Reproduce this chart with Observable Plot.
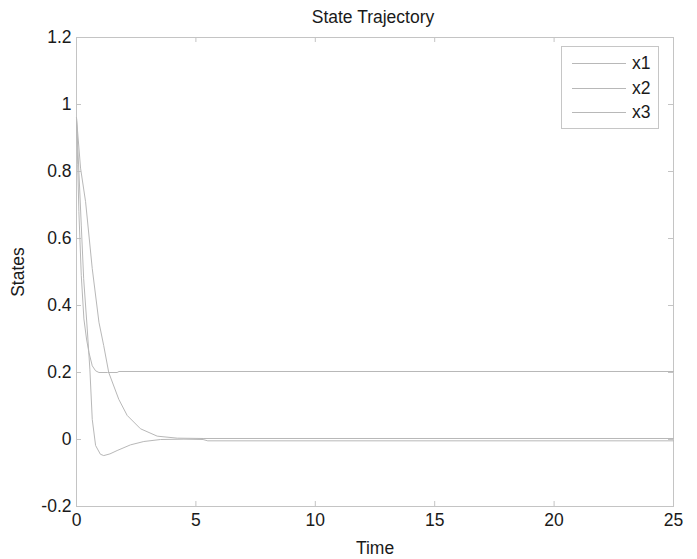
<!DOCTYPE html>
<html>
<head>
<meta charset="utf-8">
<script src="https://cdn.jsdelivr.net/npm/d3@7"></script>
<script src="https://cdn.jsdelivr.net/npm/@observablehq/plot@0.6"></script>
<style>
  html, body { margin: 0; padding: 0; background: #fff; }
  #wrap { position: relative; width: 697px; height: 559px; font-family: "Liberation Sans", Arial, sans-serif; }
  #legend { position: absolute; left: 561px; top: 46px; width: 98px; height: 83px; border: 1px solid #c6c6c6; background: #fff; box-sizing: border-box; }
  .row { position: absolute; left: 0; height: 20px; width: 97px; }
  .row .ln { position: absolute; left: 10px; width: 54px; top: 10px; border-top: 1px solid #b8b8b8; }
  .row .lb { position: absolute; left: 70px; top: 0; font-size: 17.5px; line-height: 20px; color: #1a1a1a; }
</style>
</head>
<body>
<div id="wrap"></div>
<script>
// ---- data ----
const title = "State Trajectory";
const xLabel = "Time";
const yLabel = "States";
const seriesNames = ["x1", "x2", "x3"];
const xTicks = [0, 5, 10, 15, 20, 25];
const yTicks = [-0.2, 0, 0.2, 0.4, 0.6, 0.8, 1, 1.2];

const t1 = [0, 0.17, 0.38, 0.66, 0.94, 1.14, 1.35, 1.77, 2.12, 2.68, 3.38, 4.22, 5.3, 25];
const x1 = [0.96, 0.81, 0.71, 0.51, 0.35, 0.28, 0.20, 0.12, 0.072, 0.032, 0.010, 0.004, 0.003, 0.003];

const t2 = [0, 0.1, 0.2, 0.3, 0.45, 0.56, 0.66, 0.8, 1.0, 1.14, 1.4, 1.7, 2.26, 2.82, 3.52, 4.5, 5.3, 5.5, 25];
const x2 = [0.96, 0.8, 0.64, 0.48, 0.33, 0.21, 0.06, -0.018, -0.044, -0.048, -0.043, -0.033, -0.016, -0.006, 0.0, 0.001, 0.0, -0.004, -0.004];

const t3 = [0, 0.05, 0.1, 0.2, 0.31, 0.42, 0.52, 0.66, 0.8, 0.94, 1.3, 1.7, 1.78, 25];
const x3 = [0.96, 0.82, 0.68, 0.49, 0.36, 0.3, 0.26, 0.22, 0.205, 0.2, 0.2, 0.2, 0.203, 0.203];

// ---- build table ----
const rows = [];
[[t1, x1], [t2, x2], [t3, x3]].forEach(([t, v], i) => {
  t.forEach((tt, j) => rows.push({series: seriesNames[i], t: tt, v: v[j]}));
});

const W = 697, H = 559, mL = 76, mR = 24, mT = 37, mB = 53;
const plotH = H - mT - mB, plotW = W - mL - mR;
const axisColor = "#c4c4c4";
const lineColor = "#b8b8b8";
const fmt = d => String(+d.toFixed(1));

const chart = Plot.plot({
  width: W, height: H,
  marginLeft: mL, marginRight: mR, marginTop: mT, marginBottom: mB,
  style: {fontFamily: '"Liberation Sans", Arial, sans-serif', fontSize: "17.5px", color: "#1a1a1a", background: "#fff"},
  x: {domain: [0, 25]},
  y: {domain: [-0.2, 1.2]},
  marks: [
    Plot.frame({stroke: axisColor}),
    // inward ticks (bottom/top/left/right)
    Plot.tickX(xTicks, {x: d => d, stroke: axisColor, insetTop: plotH - 5}),
    Plot.tickX(xTicks, {x: d => d, stroke: axisColor, insetBottom: plotH - 5}),
    Plot.tickY(yTicks, {y: d => d, stroke: axisColor, insetRight: plotW - 5}),
    Plot.tickY(yTicks, {y: d => d, stroke: axisColor, insetLeft: plotW - 5}),
    Plot.axisX(xTicks, {tickSize: 0, tickPadding: 7, tickFormat: fmt, label: xLabel, labelAnchor: "center", labelArrow: "none", labelOffset: 47}),
    Plot.axisY(yTicks, {tickSize: 0, tickPadding: 5, tickFormat: fmt, label: yLabel, labelAnchor: "center", labelArrow: "none", labelOffset: 65}),
    Plot.line(rows, {x: "t", y: "v", z: "series", stroke: lineColor, strokeWidth: 1}),
    Plot.text([title], {frameAnchor: "top", dx: -2, dy: -15, lineAnchor: "bottom", fontSize: 17.5, fill: "#1a1a1a"})
  ]
});

const wrap = document.getElementById("wrap");
wrap.appendChild(chart);

// legend overlay
const legend = document.createElement("div");
legend.id = "legend";
seriesNames.forEach((name, i) => {
  const r = document.createElement("div");
  r.className = "row";
  r.style.top = (6 + i * 24.7) + "px";
  r.innerHTML = `<span class="ln"></span><span class="lb">${name}</span>`;
  legend.appendChild(r);
});
wrap.appendChild(legend);
</script>
</body>
</html>
